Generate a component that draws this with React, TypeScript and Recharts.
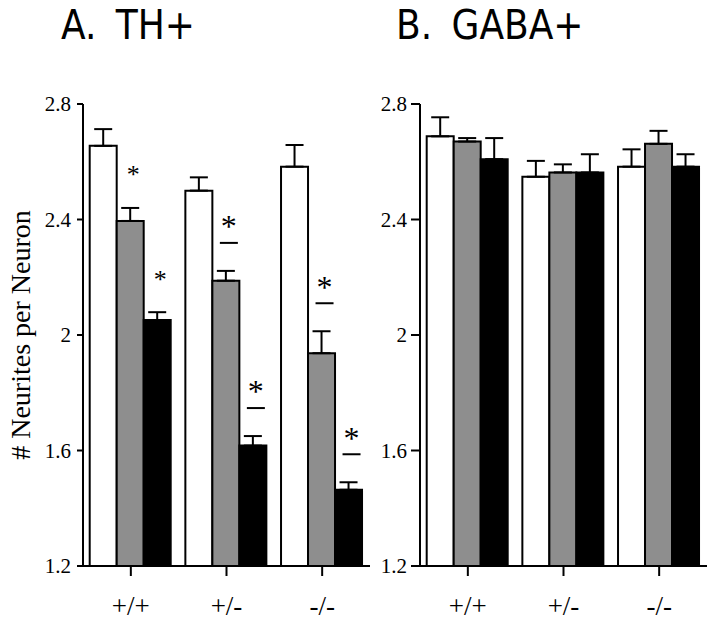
import { BarChart, Bar, XAxis, YAxis, ErrorBar, LabelList } from 'recharts';

const genotypes = ['+/+', '+/-', '-/-'];
const yTicks = [1.2, 1.6, 2, 2.4, 2.8];

// A. TH+
const thWhite = [2.655, 2.5, 2.583];
const thWhiteErr = [0.058, 0.046, 0.075];
const thGray = [2.395, 2.188, 1.937];
const thGrayErr = [0.045, 0.034, 0.076];
const thBlack = [2.052, 1.617, 1.464];
const thBlackErr = [0.027, 0.033, 0.026];
// '*' = asterisk only, '*-' = asterisk with a bar under it
const thGraySig = ['*', '*-', '*-'];
const thBlackSig = ['*', '*-', '*-'];

// B. GABA+
const gabaWhite = [2.688, 2.548, 2.583];
const gabaWhiteErr = [0.066, 0.055, 0.06];
const gabaGray = [2.67, 2.563, 2.662];
const gabaGrayErr = [0.012, 0.028, 0.045];
const gabaBlack = [2.609, 2.563, 2.583];
const gabaBlackErr = [0.073, 0.063, 0.043];

const Y_MIN = 1.2;
const SERIF = "'Liberation Serif', 'Times New Roman', serif";
const TITLE_FONT = "'Liberation Sans Narrow', 'DejaVu Sans Condensed', sans-serif";
const GRAY = '#8e8e8e';

function buildRows(white, whiteErr, gray, grayErr, black, blackErr, graySig?, blackSig?) {
  return genotypes.map((g, i) => ({
    name: g,
    white: white[i],
    whiteErr: [0, whiteErr[i]],
    gray: gray[i],
    grayErr: [0, grayErr[i]],
    black: black[i],
    blackErr: [0, blackErr[i]],
    graySig: graySig ? graySig[i] : '',
    blackSig: blackSig ? blackSig[i] : '',
  }));
}

const thRows = buildRows(thWhite, thWhiteErr, thGray, thGrayErr, thBlack, thBlackErr, thGraySig, thBlackSig);
const gabaRows = buildRows(gabaWhite, gabaWhiteErr, gabaGray, gabaGrayErr, gabaBlack, gabaBlackErr);

// asterisk (and bar) drawn above the error cap of a bar
const sigMark = (key: 'gray' | 'black') => (props: any) => {
  const { x, y, width, height, index } = props;
  const row = thRows[index];
  if (!row) return null;
  const sig = row[key + 'Sig'];
  if (!sig) return null;
  const val = row[key];
  const err = row[key + 'Err'][1];
  const ppu = height / (val - Y_MIN);
  const capY = y - err * ppu;
  const cx = x + width / 2 + 3;
  const withBar = sig === '*-';
  const starY = withBar ? capY - 49 : capY - 37;
  const fs = withBar ? 32 : 26;
  return (
    <g>
      <text x={cx} y={starY + fs * 0.48} textAnchor="middle" fontSize={fs} fontFamily={SERIF} fill="#000">
        *
      </text>
      {withBar && <line x1={cx - 9} x2={cx + 9} y1={capY - 28} y2={capY - 28} stroke="#000" strokeWidth={2} />}
    </g>
  );
};

function Panel({ rows, yAxisWidth, width, marginRight, yTickSize, yTickMargin, showLabel, marks }) {
  return (
    <BarChart
      width={width}
      height={627}
      data={rows}
      margin={{ top: 104, right: marginRight, bottom: 21, left: 0 }}
      barCategoryGap="7%"
      barGap={0}
    >
      <XAxis
        dataKey="name"
        height={40}
        axisLine={{ stroke: '#000', strokeWidth: 2 }}
        tickLine={{ stroke: '#000', strokeWidth: 2 }}
        tickSize={10}
        tickMargin={20}
        tick={{ fontSize: 27, fill: '#000', fontFamily: SERIF }}
      />
      <YAxis
        width={yAxisWidth}
        domain={[Y_MIN, 2.8]}
        ticks={yTicks}
        interval={0}
        axisLine={{ stroke: '#000', strokeWidth: 2 }}
        tickLine={{ stroke: '#000', strokeWidth: 2 }}
        tickSize={yTickSize}
        tickMargin={yTickMargin}
        tick={{ fontSize: 21, fill: '#000', fontFamily: SERIF }}
        label={
          showLabel
            ? {
                value: '# Neurites per Neuron',
                angle: -90,
                position: 'insideLeft',
                offset: 20,
                style: { textAnchor: 'middle', fontSize: 28, fontFamily: SERIF, fill: '#000' },
              }
            : undefined
        }
      />
      <Bar dataKey="white" fill="#fff" stroke="#000" strokeWidth={2} isAnimationActive={false}>
        <ErrorBar dataKey="whiteErr" width={9} stroke="#000" strokeWidth={2} />
      </Bar>
      <Bar dataKey="gray" fill={GRAY} stroke="#000" strokeWidth={2} isAnimationActive={false}>
        <ErrorBar dataKey="grayErr" width={9} stroke="#000" strokeWidth={2} />
        {marks && <LabelList dataKey="graySig" content={sigMark('gray')} />}
      </Bar>
      <Bar dataKey="black" fill="#000" stroke="#000" strokeWidth={2} isAnimationActive={false}>
        <ErrorBar dataKey="blackErr" width={9} stroke="#000" strokeWidth={2} />
        {marks && <LabelList dataKey="blackSig" content={sigMark('black')} />}
      </Bar>
    </BarChart>
  );
}

const titleStyle = {
  position: 'absolute' as const,
  top: 1,
  fontFamily: TITLE_FONT,
  fontSize: 40,
  lineHeight: '48px',
  color: '#000',
  wordSpacing: 8,
  whiteSpace: 'nowrap' as const,
};

export default function App() {
  return (
    <div style={{ position: 'absolute', left: 0, top: 0, width: 720, height: 627, background: '#fff' }}>
      <div style={{ position: 'absolute', left: 0, top: 0 }}>
        <Panel rows={thRows} yAxisWidth={83} width={380} marginRight={10} yTickSize={6} yTickMargin={6} showLabel marks />
      </div>
      <div style={{ position: 'absolute', left: 360, top: 0 }}>
        <Panel rows={gabaRows} yAxisWidth={60} width={360} marginRight={13} yTickSize={9} yTickMargin={4} showLabel={false} marks={false} />
      </div>
      <div style={{ ...titleStyle, left: 61 }}>A. TH+</div>
      <div style={{ ...titleStyle, left: 396 }}>B. GABA+</div>
    </div>
  );
}
